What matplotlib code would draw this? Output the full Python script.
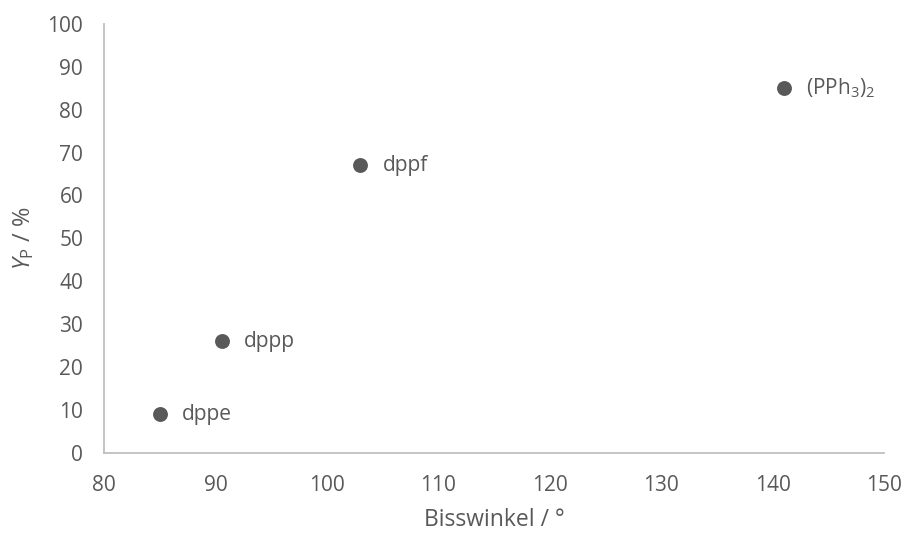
import matplotlib
matplotlib.use("Agg")
import matplotlib.pyplot as plt

# Ligand bite angle vs. yield
ligands = ["dppe", "dppp", "dppf", "(PPh$_3$)$_2$"]
bite_angle = [85, 90.6, 103, 141]
yield_p = [9, 26, 67, 85]

x_ticks = [80, 90, 100, 110, 120, 130, 140, 150]
y_ticks = [0, 10, 20, 30, 40, 50, 60, 70, 80, 90, 100]

TEXT = "#595959"
AXIS = "#BFBFBF"

plt.rcParams["font.family"] = ["Open Sans", "DejaVu Sans"]
plt.rcParams["mathtext.fontset"] = "custom"
plt.rcParams["mathtext.rm"] = "Open Sans"
plt.rcParams["mathtext.it"] = "Open Sans:italic"

fig = plt.figure(figsize=(9.06, 5.33), dpi=100)
ax = fig.add_axes([0.1148, 0.1507, 0.861, 0.8043])

ax.scatter(bite_angle, yield_p, s=115, color=TEXT, zorder=3, linewidths=0)
for x, y, name in zip(bite_angle, yield_p, ligands):
    ax.annotate(name, (x, y), xytext=(16, 0), textcoords="offset points",
                va="center", ha="left", fontsize=15, color=TEXT)

ax.set_xlim(80, 150)
ax.set_ylim(0, 100)
ax.set_xticks(x_ticks)
ax.set_yticks(y_ticks)
ax.tick_params(length=0, labelsize=15, colors=TEXT)
ax.tick_params(axis="x", pad=16)
ax.tick_params(axis="y", pad=15)

for side in ("top", "right"):
    ax.spines[side].set_visible(False)
for side in ("left", "bottom"):
    ax.spines[side].set_color(AXIS)
    ax.spines[side].set_linewidth(1.3)

ax.set_xlabel("Bisswinkel / °", fontsize=16.5, color=TEXT, labelpad=9)
ax.set_ylabel(r"$\mathit{Y}_\mathrm{P}$ / %", fontsize=17, color=TEXT, labelpad=8)

fig.savefig("out.png", dpi=100)
